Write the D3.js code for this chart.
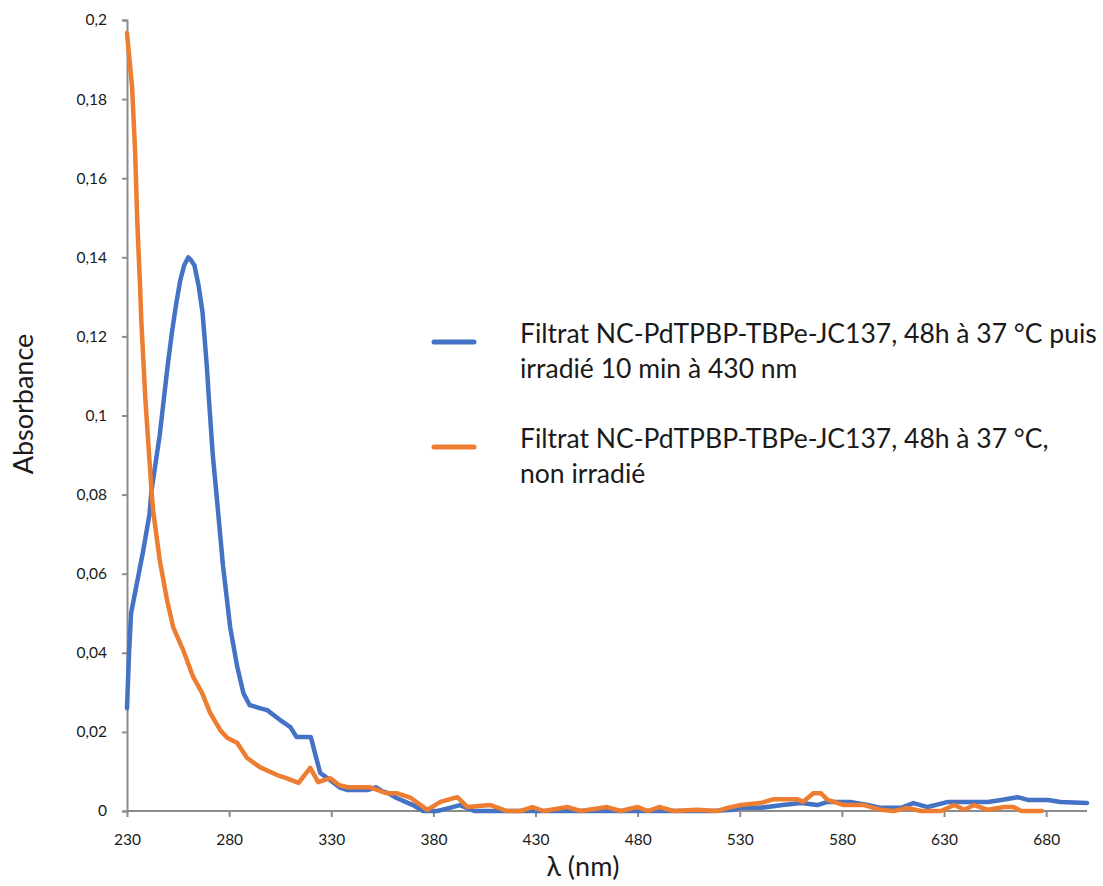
<!DOCTYPE html>
<html>
<head>
<meta charset="utf-8">
<script src="https://cdn.jsdelivr.net/npm/d3@7/dist/d3.min.js"></script>
<style>
html,body{margin:0;padding:0;background:#fff;}
svg{display:block;}
text{font-family:Lato,"Open Sans",sans-serif;fill:#1a1a1a;}
</style>
</head>
<body>
<svg id="chart" width="1103" height="886"></svg>
<script>
// ---- data ----
const xTickValues = [230, 280, 330, 380, 430, 480, 530, 580, 630, 680];
const yTickValues = [0, 0.02, 0.04, 0.06, 0.08, 0.1, 0.12, 0.14, 0.16, 0.18, 0.2];
const seriesNames = [
  ["Filtrat NC-PdTPBP-TBPe-JC137, 48h à 37 °C puis", "irradié 10 min à 430 nm"],
  ["Filtrat NC-PdTPBP-TBPe-JC137, 48h à 37 °C,", "non irradié"]
];
const seriesColors = ["#4472C4", "#ED7D31"];

const irradiatedNm = [230,231,232,235,238,241,242,244,246,248,250,252,254,256,258,260,261,263,265,267,269,270,272,274,277,280.5,284,287,290,295,298.6,305,310,313,320,322,324.6,329.5,334,338,347.6,352,355,358,362,370,375,382,388,393,400,410,430,460,490,517,527,530,540,551,560,568,573,584,592.7,599,609,615,622,632,642,651.6,658,666,671,681,687,700];
const irradiatedAbs = [0.026,0.040,0.050,0.058,0.066,0.075,0.081,0.088,0.095,0.104,0.113,0.121,0.128,0.134,0.138,0.140,0.1395,0.138,0.133,0.126,0.113,0.105,0.090,0.079,0.062,0.0465,0.0364,0.0298,0.0268,0.026,0.0255,0.023,0.0212,0.0187,0.0187,0.0147,0.0096,0.0078,0.006,0.0053,0.0053,0.006,0.005,0.0045,0.0033,0.0015,0,0,0.0008,0.0015,0,0,0,0,0,0,0.0003,0.0008,0.0008,0.0015,0.002,0.0015,0.0023,0.0023,0.0015,0.0008,0.0008,0.002,0.001,0.0023,0.0023,0.0023,0.0028,0.0035,0.0028,0.0028,0.0023,0.002];

const nonIrradiatedNm = [230,232.5,234,235,236.4,237,239,242,242.8,246,249.6,252.6,257.5,262.4,266.8,270.7,275.6,279,284,288.8,295,303.5,308,314,319.7,323.6,329.5,334,338,349,357,362,369,377,383.4,391.7,396.7,408,416,422.6,428.5,434,445.7,452,465,471.7,480,485,490.5,497.6,509,519,524,530.5,540,546.7,558,561,566,569.7,573,581,590.8,599,605.5,612,618.7,628.5,635,640,644.7,651.6,659.4,664,667.8,678];
const nonIrradiatedAbs = [0.1967,0.183,0.1664,0.1495,0.1325,0.124,0.104,0.081,0.076,0.0635,0.0533,0.0465,0.0407,0.0339,0.0298,0.0248,0.0205,0.0185,0.0172,0.0134,0.0111,0.0091,0.0083,0.0071,0.0109,0.0073,0.0083,0.0065,0.006,0.006,0.0045,0.0045,0.0033,0.0003,0.0023,0.0035,0.001,0.0015,0,0,0.001,0,0.001,0,0.001,0,0.001,0,0.001,0,0.0003,0,0.0008,0.0015,0.002,0.003,0.003,0.0023,0.0045,0.0045,0.0028,0.0015,0.0015,0.0003,0,0.0008,0,0,0.0015,0.0003,0.0015,0.0003,0.001,0.001,0,0];

// ---- layout ----
const svg = d3.select("#chart");
const mLeft = 127, mRight = 1087, mTop = 20, mBottom = 811;
const x = d3.scaleLinear().domain([230, 700]).range([mLeft, mRight]);
const y = d3.scaleLinear().domain([0, 0.2]).range([mBottom, mTop]);
const axisColor = "#8c8c8c";
const fmt = v => d3.format("~g")(v).replace(".", ",");

// y axis
const gy = svg.append("g").attr("transform", `translate(${mLeft},0)`)
  .call(d3.axisLeft(y).tickValues(yTickValues).tickSize(5).tickPadding(15).tickFormat(fmt));
gy.select(".domain").attr("stroke", axisColor).attr("stroke-width", 2);
gy.selectAll(".tick line").attr("stroke", axisColor).attr("stroke-width", 2);
gy.selectAll(".tick text").attr("font-size", 15.5).attr("fill", "#222").style("font-family", "Lato, sans-serif");

// x axis
const gx = svg.append("g").attr("transform", `translate(0,${mBottom})`)
  .call(d3.axisBottom(x).tickValues(xTickValues).tickSize(6).tickPadding(17).tickFormat(d3.format("d")));
gx.select(".domain").attr("stroke", axisColor).attr("stroke-width", 2).attr("d", `M${mLeft},0H${mRight}`);
gx.selectAll(".tick line").attr("stroke", axisColor).attr("stroke-width", 2);
gx.selectAll(".tick text").attr("font-size", 15.5).attr("fill", "#222").style("font-family", "Lato, sans-serif");

// axis titles
svg.append("text").attr("transform", "translate(33,404) rotate(-90)")
  .attr("text-anchor", "middle").attr("font-size", 27).text("Absorbance");
svg.append("text").attr("x", 583).attr("y", 876)
  .attr("text-anchor", "middle").attr("font-size", 27).text("λ (nm)");

// lines
const line = d3.line().x(d => x(d[0])).y(d => y(d[1]));
const series = [
  d3.zip(irradiatedNm, irradiatedAbs),
  d3.zip(nonIrradiatedNm, nonIrradiatedAbs)
];
[0, 1].forEach(i => {
  svg.append("path").datum(series[i])
    .attr("fill", "none").attr("stroke", seriesColors[i])
    .attr("stroke-width", 4.5).attr("stroke-linejoin", "round").attr("stroke-linecap", "round")
    .attr("d", line);
});

// legend
const legendY = [342, 447];
seriesNames.forEach((lines, i) => {
  svg.append("line").attr("x1", 434).attr("x2", 474)
    .attr("y1", legendY[i]).attr("y2", legendY[i])
    .attr("stroke", seriesColors[i]).attr("stroke-width", 5).attr("stroke-linecap", "round");
  lines.forEach((t, j) => {
    svg.append("text").attr("class", "leg").attr("x", 520)
      .attr("y", legendY[i] + 1 + j * 35).attr("font-size", 24).text(t);
  });
});
// fit legend width to reference (first line ~577px)
const first = svg.select("text.leg").node();
const w = first.getComputedTextLength();
const fs = 24 * 577 / w;
svg.selectAll("text.leg").attr("font-size", fs);
</script>
</body>
</html>
